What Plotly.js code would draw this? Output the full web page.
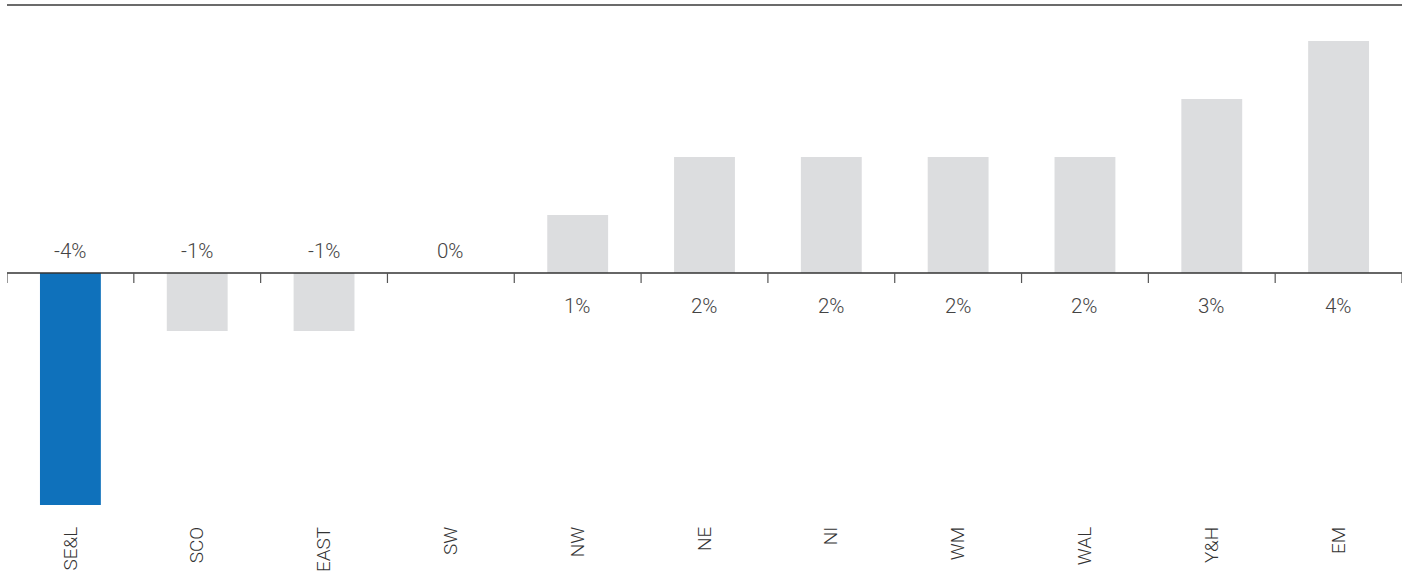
<!DOCTYPE html>
<html>
<head>
<meta charset="utf-8">
<script src="https://cdn.plot.ly/plotly-3.0.1.min.js"></script>
<style>html,body{margin:0;padding:0;background:#fff;}#chart{width:1409px;height:574px;}</style>
</head>
<body>
<div id="chart"></div>
<script>
var regions = ["SE&L","SCO","EAST","SW","NW","NE","NI","WM","WAL","Y&H","EM"];
var changes = [-4,-1,-1,0,1,2,2,2,2,3,4];
var valueLabels = ["-4%","-1%","-1%","0%","1%","2%","2%","2%","2%","3%","4%"];
var highlight = "SE&L";

var blue = "#0f71bb", grey = "#dcdddf";
var colors = regions.map(function(r){ return r === highlight ? blue : grey; });

var trace = {
  type: "bar",
  x: regions,
  y: changes,
  marker: {color: colors},
  width: 0.48,
  hoverinfo: "x+y"
};

var annotations = regions.map(function(r, i){
  var v = changes[i];
  return {
    x: r, y: 0, xref: "x", yref: "y",
    text: valueLabels[i],
    showarrow: false,
    yshift: v > 0 ? -33 : 22,
    font: {family: "Roboto", size: 20.5, color: "#444", weight: 300}
  };
});

var shapes = [
  {type: "line", xref: "paper", yref: "paper", x0: 0, x1: 1, y0: 1, y1: 1,
   line: {color: "#6b6b6b", width: 2}},
  {type: "line", xref: "paper", yref: "y", x0: 0, x1: 1, y0: 0, y1: 0,
   line: {color: "#333", width: 1.5}}
];
for (var i = 0; i <= regions.length; i++) {
  shapes.push({type: "line", xref: "x", yref: "y", ysizemode: "pixel", yanchor: 0,
    x0: i - 0.5, x1: i - 0.5, y0: 0, y1: -10,
    line: {color: "#555", width: 1.2}});
}

var layout = {
  width: 1409, height: 574,
  margin: {l: 7, r: 7, t: 5, b: 69},
  paper_bgcolor: "#fff", plot_bgcolor: "#fff",
  showlegend: false,
  xaxis: {
    type: "category",
    range: [-0.5, regions.length - 0.5],
    showgrid: false, zeroline: false, showline: false,
    ticks: "", tickangle: -90, ticklabelstandoff: 17,
    tickfont: {family: "Roboto", size: 19, color: "#333", weight: 300}
  },
  yaxis: {
    range: [-4, 4.62],
    showgrid: false, zeroline: false, showline: false,
    showticklabels: false, ticks: ""
  },
  shapes: shapes,
  annotations: annotations
};

Plotly.newPlot("chart", [trace], layout, {displayModeBar: false, staticPlot: true});
</script>
</body>
</html>
